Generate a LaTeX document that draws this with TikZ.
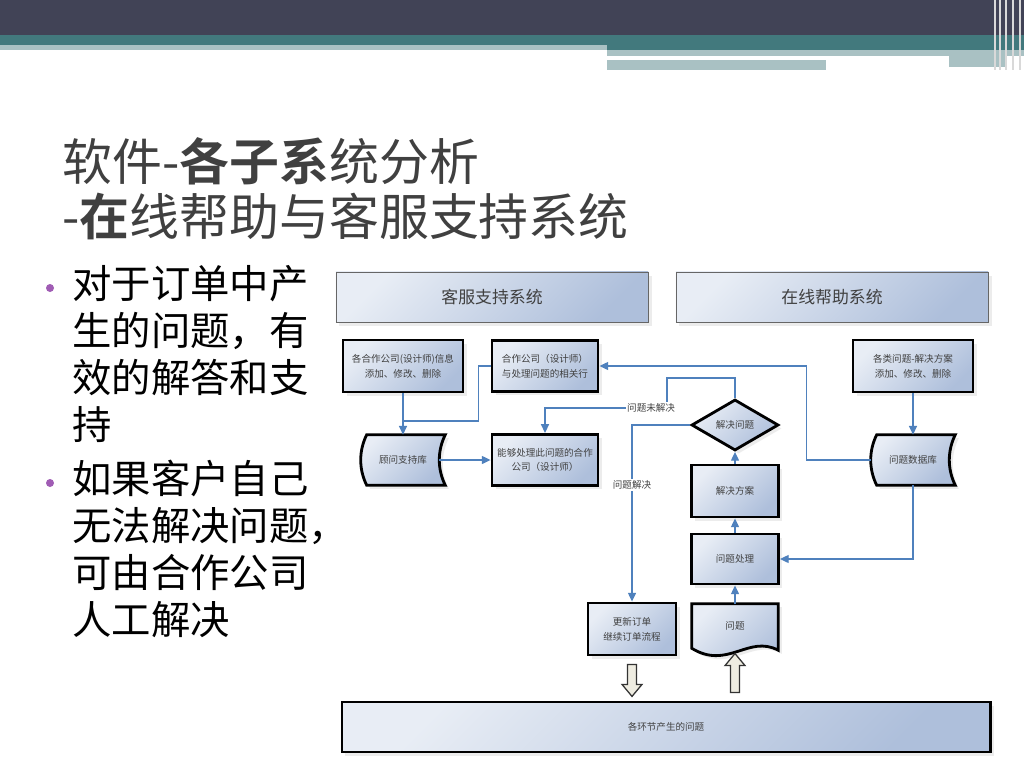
\documentclass[tikz,border=0pt]{standalone}
\usepackage{fontspec}
\setmainfont{Noto Sans CJK SC}[BoldFont={Noto Sans CJK SC Bold}]
\usetikzlibrary{arrows.meta,positioning,calc,shapes.geometric,shadows,backgrounds}

\definecolor{bandDark}{HTML}{414356}
\definecolor{bandTeal}{HTML}{42797D}
\definecolor{bandPale}{HTML}{A9C1C3}
\definecolor{flowBlue}{HTML}{4F81BD}
\definecolor{fillHi}{HTML}{E8EDF5}
\definecolor{fillLo}{HTML}{AEBFDB}
\definecolor{dotPurple}{HTML}{A05CB4}
\definecolor{hollowFill}{HTML}{EEECE1}

\newcommand\titlefs{\fontsize{35.5pt}{41pt}\selectfont}
\newcommand\bulletfs{\fontsize{28pt}{33.4pt}\selectfont}
\newcommand\hdrfs{\fontsize{12pt}{14pt}\selectfont}
\newcommand\boxfs{\fontsize{6.8pt}{10.5pt}\selectfont}

\begin{document}
\begin{tikzpicture}[x=0.025cm,y=-0.025cm,
 shade/.style={top color=fillHi,bottom color=fillLo,shading angle=45,
  drop shadow={shadow xshift=2.5pt,shadow yshift=-2.5pt,fill=black!14}},
 hdr/.style={shade,draw=black!60,line width=0.6pt,minimum width=7.8cm,
  minimum height=1.25cm,font=\hdrfs,text=black!75},
 box/.style={shade,draw=black,line width=2pt,align=center,inner sep=1pt,
  font=\boxfs,text=black!75},
 store/.style={inner sep=1pt,align=center,font=\boxfs,text=black!75,
  minimum width=2.1cm,minimum height=1.25cm},
 shapefill/.style={shade,draw=black,line width=2pt},
 choice/.style={shade,draw=black,line width=2pt,diamond,aspect=1.7,inner sep=0pt,
  minimum width=2.175cm,minimum height=1.275cm,font=\boxfs,text=black!75},
 flow/.style={-{Triangle[length=2.2mm,width=2mm]},line width=1pt,draw=flowBlue},
 note/.style={font=\boxfs,text=black!75,fill=white,inner sep=1pt},
 bigarrow/.style={draw=black!80,line width=0.9pt,fill=hollowFill,line join=miter}]
\useasboundingbox (0,0) rectangle (1024,768);
\begin{pgfonlayer}{background}
\fill[white] (0,0) rectangle (1024,768);
\end{pgfonlayer}

% slide bands
\fill[bandDark] (0,0) rectangle (1024,35);
\fill[bandTeal] (0,35) rectangle (1024,45);
\fill[bandPale] (0,45) rectangle (607,50);
\fill[bandTeal] (607,45) rectangle (1024,50);
\fill[bandPale] (607,50) rectangle (1024,56);
\fill[white] (607,56) rectangle (949,60);
\fill[bandPale] (607,60) rectangle (826,70);
\fill[bandPale] (949,56) rectangle (1006,67);
\foreach \xx in {995,1000,1006,1013,1020}
 \draw[white!70!gray,line width=0.8pt] (\xx,0) -- (\xx,70);

% title and bullets
\node[anchor=base west,inner sep=0pt,font=\titlefs,text=black!75] (ttlA) at (62,180)
 {软件-\textbf{各子系}统分析};
\node[anchor=base west,inner sep=0pt,font=\titlefs,text=black!75] (ttlB) at (62,235)
 {-\textbf{在}线帮助与客服支持系统};
\fill[dotPurple] (50,288) circle (4);
\fill[dotPurple] (50,483) circle (4);
\node[anchor=north west,inner sep=0pt,align=left,font=\bulletfs] (ptA) at (72,265)
 {对于订单中产\\生的问题，有\\效的解答和支\\持};
\node[anchor=north west,inner sep=0pt,align=left,font=\bulletfs] (ptB) at (72,460)
 {如果客户自己\\无法解决问题，\\可由合作公司\\人工解决};

% diagram
\node[hdr] (kefu) at (492,297) {客服支持系统};
\node[hdr] (zaixian) at (832,297) {在线帮助系统};
\node[box,minimum width=3cm,minimum height=1.3cm] (addco) at (403,366)
 {各合作公司(设计师)信息\\添加、修改、删除};
\node[box,minimum width=2.65cm,minimum height=1.28cm] (rel) at (545,366)
 {合作公司（设计师）\\与处理问题的相关行};
\node[box,minimum width=3cm,minimum height=1.3cm] (cat) at (913,366)
 {各类问题-解决方案\\添加、修改、删除};
\node[store] (gwk) at (403,460) {顾问支持库};
\node[box,minimum width=2.65cm,minimum height=1.28cm] (able) at (545,460)
 {能够处理此问题的合作\\公司（设计师）};
\node[choice] (dec) at (735,425) {解决问题};
\node[box,minimum width=2.175cm,minimum height=1.3cm] (sol) at (735,491) {解决方案};
\node[box,minimum width=2.175cm,minimum height=1.25cm] (proc) at (735,559) {问题处理};
\node[store] (qdb) at (913,460) {问题数据库};
\node[box,minimum width=2.2cm,minimum height=1.3cm] (upd) at (632,629)
 {更新订单\\继续订单流程};
\node[store,minimum width=2.15cm,minimum height=1.1cm] (doc) at (735,626) {问题};
\node[box,minimum width=16.2cm,minimum height=1.25cm] (bar) at (666,727) {各环节产生的问题};
\coordinate (join) at (403,421);

\begin{pgfonlayer}{background}
\foreach \sd in {gwk,qdb}
 \path[shapefill] ($(\sd.north west)+(6,0)$)
  .. controls ($(\sd.north west)+(-2,16)$) and ($(\sd.south west)+(-2,-16)$) .. ($(\sd.south west)+(6,0)$)
  -- (\sd.south east)
  .. controls ($(\sd.south east)+(-8,-16)$) and ($(\sd.north east)+(-8,16)$) .. (\sd.north east) -- cycle;
\path[shapefill] (doc.north west) -- (doc.north east) -- ($(doc.south east)+(0,2)$)
 .. controls ($(doc.south east)+(-30,-14)$) and ($(doc.south west)+(36,22)$) .. (doc.south west) -- cycle;
\end{pgfonlayer}

\draw[flow] (addco.south) -- (gwk.north);
\draw[flow,-] (rel.west) -- ++(-12,0) |- (join);
\draw[flow] ([xshift=-0.15cm]gwk.east) -- (able.west);
\draw[flow] (qdb.west) -- ++(-64,0) |- (rel.east);
\draw[flow] (dec.north) -- ++(0,-20) -- ++(-68,0) -- ++(0,30)
 -- node[note,pos=0.13] {问题未解决} ++(-122,0) -- (able.north);
\draw[flow] (dec.west) -| node[note,pos=0.67] {问题解决} (upd.north);
\draw[flow] (cat.south) -- (qdb.north);
\draw[flow] (qdb.south) |- (proc.east);
\draw[flow] (proc.north) -- (sol.south);
\draw[flow] (sol.north) -- (dec.south);
\draw[flow] (doc.north) -- (proc.south);
% hollow arrows to and from the bottom bar
\draw[bigarrow] ($(upd.south)+(-4.5,8)$) -- ++(9,0) -- ++(0,20) -- ++(5.5,0)
 -- ++(-10,12) -- ++(-10,-12) -- ++(5.5,0) -- cycle;
\draw[bigarrow] ($(doc.south |- bar.north)+(-4.5,-8)$) -- ++(9,0) -- ++(0,-27) -- ++(5.5,0)
 -- ++(-10,-12) -- ++(-10,12) -- ++(5.5,0) -- cycle;
\end{tikzpicture}
\end{document}
